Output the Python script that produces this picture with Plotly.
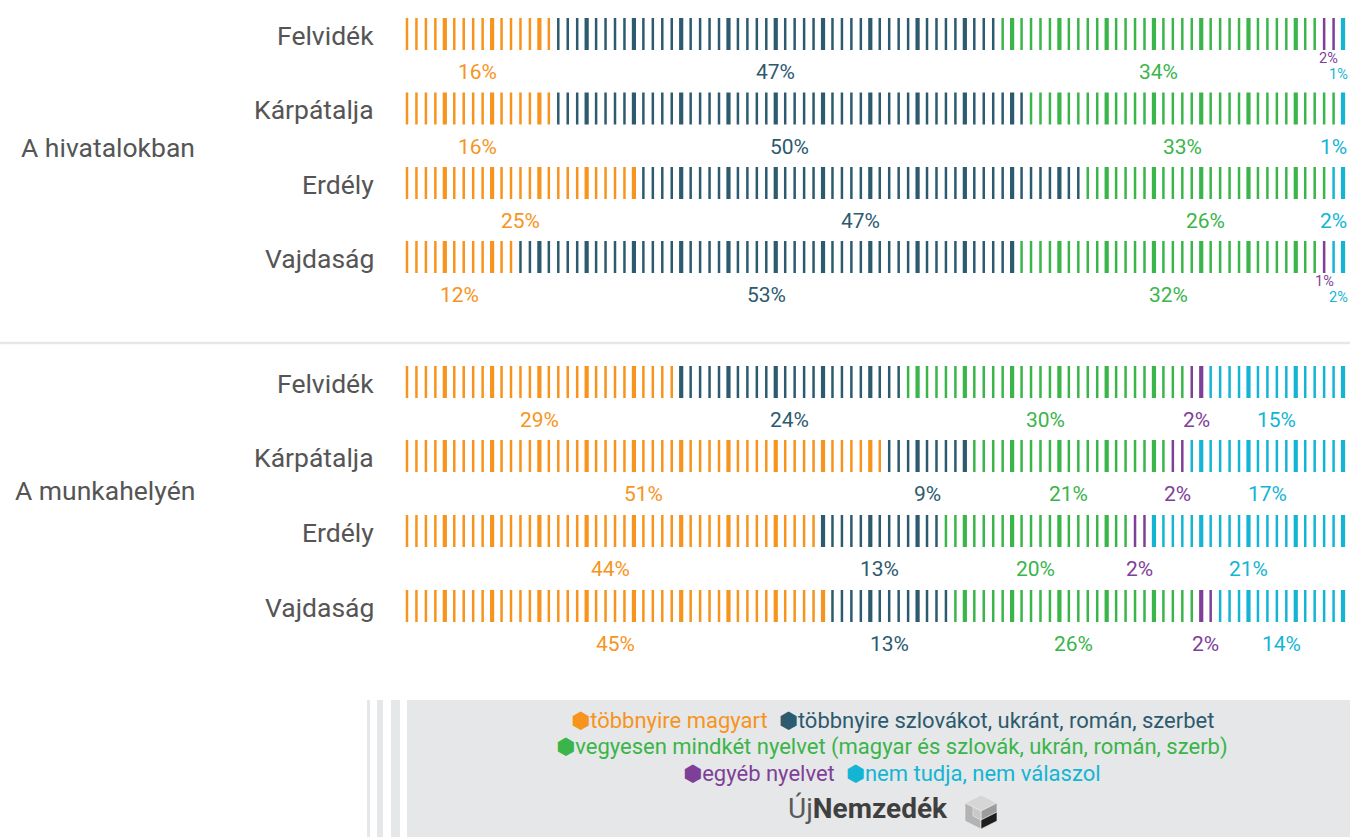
import plotly.graph_objects as go

W, H = 1350, 837

# ---------------- data ----------------
regions = ["Felvidék", "Kárpátalja", "Erdély", "Vajdaság"]
groups = ["A hivatalokban", "A munkahelyén"]
categories = [
    "többnyire magyart",
    "többnyire szlovákot, ukránt, román, szerbet",
    "vegyesen mindkét nyelvet (magyar és szlovák, ukrán, román, szerb)",
    "egyéb nyelvet",
    "nem tudja, nem válaszol",
]
colors = ["#F7941D", "#2C5A6E", "#3AB54A", "#7E3F98", "#14B5D4"]

office_magyar = [16, 16, 25, 12]
office_other = [47, 50, 47, 53]
office_mixed = [34, 33, 26, 32]
office_egyeb = [2, 0, 0, 1]
office_nemtudja = [1, 1, 2, 2]

work_magyar = [29, 51, 44, 45]
work_other = [24, 9, 13, 13]
work_mixed = [30, 21, 20, 26]
work_egyeb = [2, 2, 2, 2]
work_nemtudja = [15, 17, 21, 14]

group_data = [
    [office_magyar, office_other, office_mixed, office_egyeb, office_nemtudja],
    [work_magyar, work_other, work_mixed, work_egyeb, work_nemtudja],
]

# ---------------- layout constants (pixels) ----------------
row_centers = [[34, 108.5, 183, 257], [382, 456, 531, 606]]
group_label_y = [147, 490]
half_h = 16
label_dy = 38
FONT = "Roboto, 'DejaVu Sans', sans-serif"
TEXT_GREY = "#555555"
BOX_GREY = "#E6E7E8"

def px(x):
    return x / W

def py(y):
    return 1 - y / H

# ---------------- tick lines ----------------
traces = {}
for c in range(5):
    for thick in (False, True):
        traces[(c, thick)] = ([], [])

annotations = []
for g in range(2):
    for r in range(4):
        vals = [group_data[g][c][r] for c in range(5)]
        cum = [0]
        for v in vals:
            cum.append(cum[-1] + v)
        yc = row_centers[g][r]
        for i in range(cum[-1]):
            c = next(k for k in range(5) if cum[k] <= i < cum[k + 1])
            thick = (i % 5 == 4)
            xs, ys = traces[(c, thick)]
            xs += [i + 0.5, i + 0.5, None]
            ys += [yc - half_h, yc + half_h, None]
        # percentage labels
        for c in range(5):
            v = vals[c]
            if v <= 0:
                continue
            center = cum[c] + v / 2
            small = (g == 0 and vals[3] > 0 and c >= 3)
            if small:
                x = min(center, 99)
                y = yc + half_h + (8 if c == 3 else 24)
                size = 14.5
            else:
                x = min(center, 98.5)
                y = yc + label_dy
                size = 21
            annotations.append(dict(
                x=x, y=y, xref="x", yref="y", text=f"{v}%", showarrow=False,
                xanchor="center", yanchor="middle",
                font=dict(family=FONT, size=size, color=colors[c]),
            ))
        # region label
        annotations.append(dict(
            x=px(376), y=yc + 1, xref="paper", yref="y", text=regions[r],
            showarrow=False, xanchor="right", yanchor="middle",
            font=dict(family=FONT, size=26.5, color=TEXT_GREY),
        ))
    annotations.append(dict(
        x=px(197), y=group_label_y[g], xref="paper", yref="y", text=groups[g],
        showarrow=False, xanchor="right", yanchor="middle",
        font=dict(family=FONT, size=26.5, color=TEXT_GREY),
    ))

fig = go.Figure()
for (c, thick), (xs, ys) in traces.items():
    fig.add_trace(go.Scatter(
        x=xs, y=ys, mode="lines", hoverinfo="skip", showlegend=False,
        line=dict(color=colors[c], width=4.2 if thick else 2.5),
    ))

# ---------------- legend box ----------------
shapes = [
    dict(type="line", xref="paper", yref="paper", x0=0, x1=1, y0=py(343), y1=py(343),
         line=dict(color=BOX_GREY, width=2.5)),
    dict(type="rect", xref="paper", yref="paper", x0=px(407), x1=1, y0=0, y1=py(700),
         fillcolor=BOX_GREY, line=dict(width=0), layer="below"),
]
for a, b in [(367, 370), (377, 383), (391, 400)]:
    shapes.append(dict(type="rect", xref="paper", yref="paper", x0=px(a), x1=px(b),
                       y0=0, y1=py(700), fillcolor=BOX_GREY, line=dict(width=0), layer="below"))

def item(c):
    return f"<span style='color:{colors[c]}'>⬢{categories[c]}</span>"

SP = "\u00a0\u00a0"
legend_lines = [item(0) + SP + item(1), item(2), item(3) + SP + item(4)]
for k, (txt, y) in enumerate(zip(legend_lines, [720, 747, 773])):
    annotations.append(dict(
        x=px(892), y=py(y), xref="paper", yref="paper", text=txt, showarrow=False,
        xanchor="center", yanchor="middle", font=dict(family=FONT, size=22, color=TEXT_GREY),
    ))

# logo
annotations.append(dict(
    x=px(868), y=py(808), xref="paper", yref="paper",
    text="<span style='color:#5a5a5a'>Új</span><b>Nemzedék</b>", showarrow=False,
    xanchor="center", yanchor="middle", font=dict(family=FONT, size=28, color="#3f3f3f"),
))

def path(pts):
    return "M " + " L ".join(f"{px(x)},{py(y)}" for x, y in pts) + " Z"

cx = 981
cube = [
    ([(cx, 795), (cx + 16, 803), (cx, 811), (cx - 16, 803)], "#D6D6D6"),
    ([(cx - 16, 803), (cx, 811), (cx, 829), (cx - 16, 821)], "#B3B3B3"),
    ([(cx, 811), (cx + 16, 803), (cx + 16, 812), (cx, 820)], "#9C9C9C"),
    ([(cx, 820), (cx + 16, 812), (cx + 16, 821), (cx, 829)], "#1E1E1E"),
    ([(cx - 8, 807), (cx, 811), (cx, 820), (cx - 8, 816)], "#C8C8C8"),
]
for pts, col in cube:
    shapes.append(dict(type="path", xref="paper", yref="paper", path=path(pts),
                       fillcolor=col, line=dict(color="#EEEEEE", width=0.6)))

fig.update_layout(
    width=W, height=H,
    margin=dict(l=0, r=0, t=0, b=0),
    paper_bgcolor="white", plot_bgcolor="rgba(0,0,0,0)",
    xaxis=dict(range=[0, 100], domain=[402.27 / W, (402.27 + 945.5) / W],
               visible=False, fixedrange=True),
    yaxis=dict(range=[H, 0], domain=[0, 1], visible=False, fixedrange=True),
    shapes=shapes,
    annotations=annotations,
    showlegend=False,
)

fig.write_html(
    "out.html",
    config={"displayModeBar": False},
    post_script="document.body.style.margin='0';document.body.style.overflow='hidden';",
)
